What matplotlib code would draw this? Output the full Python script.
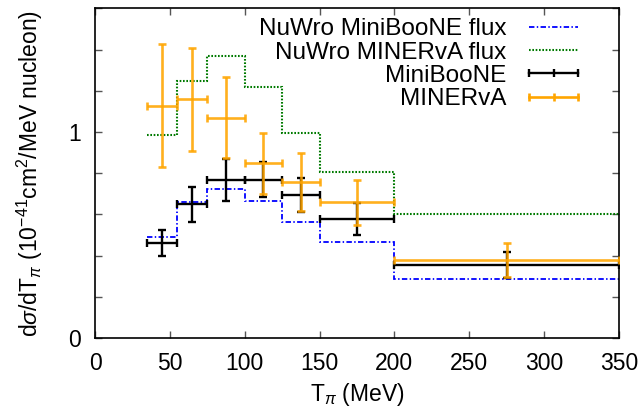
import numpy as np
import matplotlib
matplotlib.use('Agg')
import matplotlib.pyplot as plt
from matplotlib.lines import Line2D

plt.rcParams['font.family'] = ['Liberation Sans', 'DejaVu Sans']
plt.rcParams['mathtext.fontset'] = 'custom'
plt.rcParams['mathtext.rm'] = 'Liberation Sans'
plt.rcParams['mathtext.it'] = 'Liberation Sans:italic'
plt.rcParams['font.size'] = 16.5

# --- data ---
bin_edges = [35, 55, 75, 100, 125, 150, 200, 350]

nuwro_mb_flux = [0.490, 0.659, 0.721, 0.666, 0.564, 0.467, 0.284]
nuwro_mv_flux = [0.983, 1.249, 1.370, 1.220, 0.994, 0.808, 0.604]

miniboone_y = [0.459, 0.648, 0.769, 0.769, 0.693, 0.577, 0.355]
miniboone_err = [0.063, 0.087, 0.102, 0.085, 0.083, 0.078, 0.062]

minerva_y = [1.128, 1.159, 1.070, 0.848, 0.758, 0.659, 0.378]
minerva_err = [0.300, 0.250, 0.197, 0.149, 0.141, 0.110, 0.082]

edges = np.array(bin_edges, dtype=float)
centers = (edges[:-1] + edges[1:]) / 2
half_w = (edges[1:] - edges[:-1]) / 2

# --- plot ---
fig = plt.figure(figsize=(6.44, 4.12), dpi=100)
ax = fig.add_axes([95 / 644, 74 / 412, 524 / 644, 329.7 / 412])

ax.stairs(nuwro_mb_flux, edges, baseline=None, color='#0000ff', lw=1.3,
          linestyle=(0, (3.0, 1.3, 0.8, 1.3)), zorder=2)
ax.stairs(nuwro_mv_flux, edges, baseline=None, color='#007a00', lw=1.5,
          linestyle=(0, (0.8, 0.8)), zorder=2)

ax.errorbar(centers, miniboone_y, xerr=half_w, yerr=miniboone_err, fmt='none',
            ecolor='black', elinewidth=1.7, capsize=3.2, capthick=1.7, zorder=3)
ax.errorbar(centers, minerva_y, xerr=half_w, yerr=minerva_err, fmt='none',
            ecolor='#ffa500', elinewidth=1.9, capsize=3.2, capthick=1.9,
            alpha=0.88, zorder=4)

ax.set_xlim(0, 350)
ax.set_ylim(0, 1.6)
ax.set_xticks(np.arange(0, 351, 50))
yt = np.arange(0, 1.61, 0.2)
ax.set_yticks(yt)
ax.set_yticklabels(['0' if abs(v) < 1e-9 else ('1' if abs(v - 1) < 1e-9 else '') for v in yt])
ax.tick_params(direction='in', length=5, width=1, color='#555555',
               top=True, right=True, pad=10)
for s in ax.spines.values():
    s.set_linewidth(1.2)

ax.set_xlabel(r'T$_{\pi}$ (MeV)')
ax.xaxis.set_label_coords(0.5, -0.13)
ax.set_ylabel(r'd$\sigma$/dT$_{\pi}$ (10$^{-41}$cm$^{2}$/MeV nucleon)')
ax.yaxis.set_label_coords(-0.095, 0.5)

handles = [
    Line2D([], [], color='#0000ff', lw=1.3, linestyle=(0, (3.0, 1.3, 0.8, 1.3))),
    Line2D([], [], color='#007a00', lw=1.5, linestyle=(0, (0.8, 0.8))),
    Line2D([], [], color='black', lw=1.7, marker='|', ms=6, mew=1.7),
    Line2D([], [], color='#ffa500', lw=1.9, marker='|', ms=6, mew=1.9),
]
labels = ['NuWro MiniBooNE flux', 'NuWro MINERvA flux', 'MiniBooNE', 'MINERvA']
ax.legend(handles, labels, loc='upper right', frameon=False, markerfirst=False,
          numpoints=3, handlelength=2.6, handletextpad=0.65, labelspacing=0.06,
          borderaxespad=0.0, borderpad=0.4, bbox_to_anchor=(0.954, 1.0),
          prop={'size': 17.5})

fig.savefig('out.png', dpi=100)
